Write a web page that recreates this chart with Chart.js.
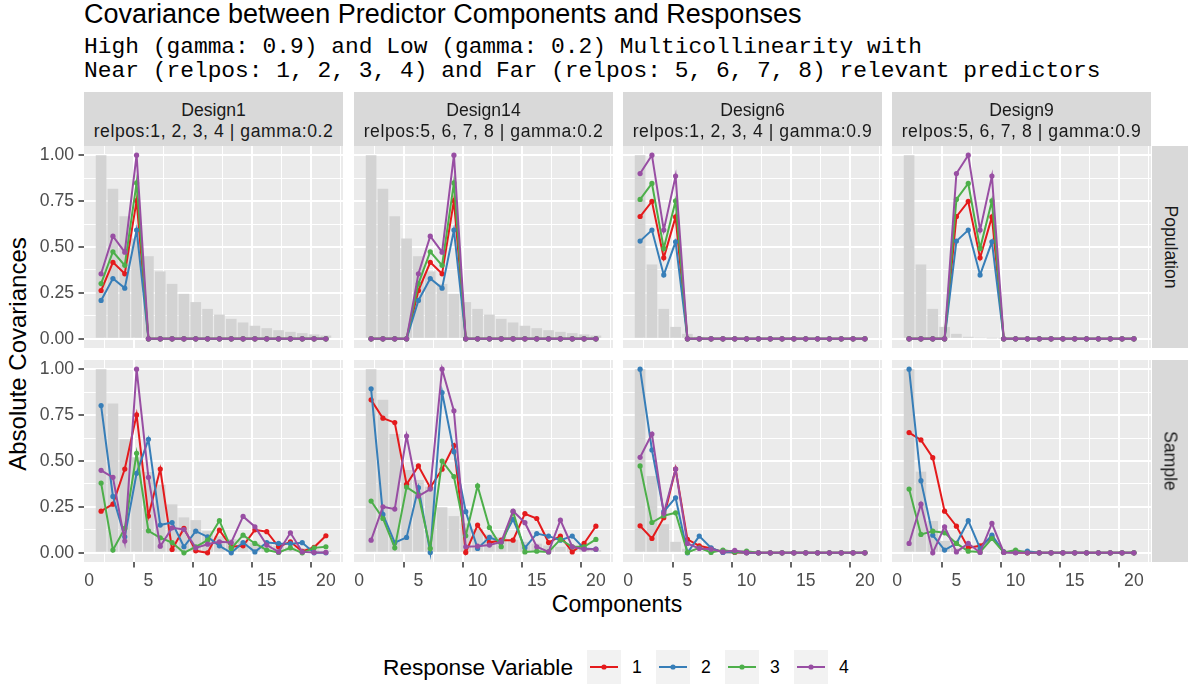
<!DOCTYPE html>
<html>
<head>
<meta charset="utf-8">
<script src="https://cdn.jsdelivr.net/npm/chart.js@4.4.1/dist/chart.umd.min.js"></script>
<style>
  body { margin: 0; width: 1188px; height: 690px; overflow: hidden; background: #fff; position: relative;
         font-family: "Liberation Sans", Arial, sans-serif; color: #000; }
  .abs { position: absolute; white-space: nowrap; }
  .strip { position: absolute; background: #D9D9D9; color: #1A1A1A; font-size: 17.6px; line-height: 21px;
           display: flex; flex-direction: column; align-items: center; justify-content: center; padding-top: 3px; box-sizing: border-box; }
  .strip .l2 { letter-spacing: 0.55px; }
  .vstrip { position: absolute; background: #D9D9D9; color: #1A1A1A; font-size: 17.6px; }
  .vstrip span { position: absolute; left: 50%; top: 50%; transform: translate(-50%, -50%) rotate(90deg); white-space: nowrap; }
</style>
</head>
<body>
<div class="abs" style="left:84px;top:-2px;font-size:27px;line-height:32px;">Covariance between Predictor Components and Responses</div>
<div class="abs" style="left:84px;top:35px;font-family:'Liberation Mono',monospace;font-size:22.9px;line-height:24px;color:#000;">High (gamma: 0.9) and Low (gamma: 0.2) Multicollinearity with<br>Near (relpos: 1, 2, 3, 4) and Far (relpos: 5, 6, 7, 8) relevant predictors</div>
<div id="ytitle" class="abs" style="left:18px;top:354px;font-size:24px;transform:translate(-50%,-50%) rotate(-90deg);">Absolute Covariances</div>
<div class="abs" style="left:617px;top:604px;font-size:23px;transform:translate(-50%,-50%);">Components</div>
<div id="legend"></div>

<script>
// components on the x axis
const components = [1, 2, 3, 4, 5, 6, 7, 8, 9, 10, 11, 12, 13, 14, 15, 16, 17, 18, 19, 20];
const designNames = ['Design1', 'Design14', 'Design6', 'Design9'];
const designInfo = ['relpos:1, 2, 3, 4 | gamma:0.2', 'relpos:5, 6, 7, 8 | gamma:0.2',
                    'relpos:1, 2, 3, 4 | gamma:0.9', 'relpos:5, 6, 7, 8 | gamma:0.9'];
const rowNames = ['Population', 'Sample'];
const responses = ['1', '2', '3', '4'];
const xTicks = [0, 5, 10, 15, 20];
const yTicks = [0, 0.25, 0.5, 0.75, 1];

// population eigenvalue bars
const popBarLow  = [1.000, 0.817, 0.668, 0.546, 0.450, 0.367, 0.299, 0.245, 0.200, 0.163, 0.132, 0.109, 0.089, 0.071, 0.058, 0.047, 0.038, 0.031, 0.024, 0.018];
const popBarHigh = [1.000, 0.405, 0.163, 0.065, 0.027, 0.011, 0.004, 0.002, 0.001, 0, 0, 0, 0, 0, 0, 0, 0, 0, 0, 0];

// Design1 population
const d1PopR1 = [0.263, 0.417, 0.354, 0.753, 0, 0, 0, 0, 0, 0, 0, 0, 0, 0, 0, 0, 0, 0, 0, 0];
const d1PopR2 = [0.209, 0.328, 0.276, 0.592, 0, 0, 0, 0, 0, 0, 0, 0, 0, 0, 0, 0, 0, 0, 0, 0];
const d1PopR3 = [0.301, 0.474, 0.400, 0.849, 0, 0, 0, 0, 0, 0, 0, 0, 0, 0, 0, 0, 0, 0, 0, 0];
const d1PopR4 = [0.354, 0.559, 0.472, 1.000, 0, 0, 0, 0, 0, 0, 0, 0, 0, 0, 0, 0, 0, 0, 0, 0];
// Design14 population
const d14PopR1 = [0, 0, 0, 0, 0.263, 0.417, 0.354, 0.753, 0, 0, 0, 0, 0, 0, 0, 0, 0, 0, 0, 0];
const d14PopR2 = [0, 0, 0, 0, 0.209, 0.328, 0.276, 0.592, 0, 0, 0, 0, 0, 0, 0, 0, 0, 0, 0, 0];
const d14PopR3 = [0, 0, 0, 0, 0.301, 0.474, 0.400, 0.849, 0, 0, 0, 0, 0, 0, 0, 0, 0, 0, 0, 0];
const d14PopR4 = [0, 0, 0, 0, 0.354, 0.559, 0.472, 1.000, 0, 0, 0, 0, 0, 0, 0, 0, 0, 0, 0, 0];
// Design6 population
const d6PopR1 = [0.666, 0.748, 0.441, 0.664, 0, 0, 0, 0, 0, 0, 0, 0, 0, 0, 0, 0, 0, 0, 0, 0];
const d6PopR2 = [0.532, 0.592, 0.348, 0.528, 0, 0, 0, 0, 0, 0, 0, 0, 0, 0, 0, 0, 0, 0, 0, 0];
const d6PopR3 = [0.759, 0.846, 0.492, 0.751, 0, 0, 0, 0, 0, 0, 0, 0, 0, 0, 0, 0, 0, 0, 0, 0];
const d6PopR4 = [0.900, 1.000, 0.592, 0.886, 0, 0, 0, 0, 0, 0, 0, 0, 0, 0, 0, 0, 0, 0, 0, 0];
// Design9 population
const d9PopR1 = [0, 0, 0, 0, 0.666, 0.748, 0.441, 0.664, 0, 0, 0, 0, 0, 0, 0, 0, 0, 0, 0, 0];
const d9PopR2 = [0, 0, 0, 0, 0.532, 0.592, 0.348, 0.528, 0, 0, 0, 0, 0, 0, 0, 0, 0, 0, 0, 0];
const d9PopR3 = [0, 0, 0, 0, 0.759, 0.846, 0.492, 0.751, 0, 0, 0, 0, 0, 0, 0, 0, 0, 0, 0, 0];
const d9PopR4 = [0, 0, 0, 0, 0.900, 1.000, 0.592, 0.886, 0, 0, 0, 0, 0, 0, 0, 0, 0, 0, 0, 0];

// sample eigenvalue bars
const d1SamBar  = [1.000, 0.813, 0.618, 0.520, 0.440, 0.370, 0.264, 0.193, 0.178, 0.118, 0.090, 0.075, 0.065, 0.055, 0.045, 0.038, 0.030, 0.025, 0.018, 0.012];
const d14SamBar = [1.000, 0.833, 0.647, 0.451, 0.397, 0.360, 0.248, 0.200, 0.160, 0.130, 0.100, 0.085, 0.070, 0.060, 0.050, 0.040, 0.033, 0.027, 0.020, 0.015];
const d6SamBar  = [1.000, 0.418, 0.156, 0.060, 0.022, 0.010, 0.005, 0.003, 0.002, 0.001, 0, 0, 0, 0, 0, 0, 0, 0, 0, 0];
const d9SamBar  = [1.000, 0.442, 0.173, 0.065, 0.025, 0.010, 0.005, 0.003, 0.002, 0.001, 0, 0, 0, 0, 0, 0, 0, 0, 0, 0];

// Design1 sample
const d1SamR1 = [0.227, 0.265, 0.456, 0.751, 0.200, 0.456, 0.018, 0.133, 0.011, 0.000, 0.124, 0.033, 0.038, 0.125, 0.115, 0.033, 0.060, 0.008, 0.030, 0.093];
const d1SamR2 = [0.802, 0.307, 0.087, 0.433, 0.618, 0.151, 0.165, 0.033, 0.118, 0.087, 0.038, 0.000, 0.056, 0.005, 0.056, 0.051, 0.050, 0.055, 0.000, 0.000];
const d1SamR3 = [0.380, 0.015, 0.133, 0.542, 0.120, 0.082, 0.056, 0.000, 0.033, 0.069, 0.175, 0.024, 0.096, 0.051, 0.015, 0.002, 0.027, 0.000, 0.027, 0.033];
const d1SamR4 = [0.449, 0.411, 0.064, 1.000, 0.411, 0.036, 0.136, 0.127, 0.027, 0.047, 0.060, 0.056, 0.198, 0.142, 0.042, 0.005, 0.109, 0.005, 0.002, 0.002];
// Design14 sample
const d14SamR1 = [0.833, 0.733, 0.709, 0.373, 0.473, 0.355, 0.455, 0.584, 0.002, 0.151, 0.056, 0.069, 0.069, 0.213, 0.187, 0.056, 0.091, 0.005, 0.051, 0.145];
const d14SamR2 = [0.893, 0.209, 0.055, 0.084, 0.355, 0.002, 0.873, 0.551, 0.224, 0.024, 0.084, 0.060, 0.182, 0.027, 0.105, 0.091, 0.069, 0.091, 0.024, 0.020];
const d14SamR3 = [0.282, 0.187, 0.027, 0.358, 0.315, 0.024, 0.500, 0.415, 0.093, 0.364, 0.138, 0.033, 0.224, 0.005, 0.009, 0.005, 0.073, 0.033, 0.033, 0.073];
const d14SamR4 = [0.069, 0.251, 0.238, 0.636, 0.309, 0.347, 1.000, 0.773, 0.033, 0.036, 0.042, 0.060, 0.227, 0.164, 0.033, 0.005, 0.178, 0.033, 0.020, 0.020];
// Design6 sample
const d6SamR1 = [0.147, 0.078, 0.191, 0.456, 0.073, 0.038, 0.024, 0.005, 0.002, 0, 0, 0, 0, 0, 0, 0, 0, 0, 0, 0];
const d6SamR2 = [1.000, 0.560, 0.224, 0.300, 0.000, 0.091, 0.027, 0.002, 0.005, 0, 0, 0, 0, 0, 0, 0, 0, 0, 0, 0];
const d6SamR3 = [0.473, 0.165, 0.202, 0.218, 0.002, 0.027, 0.002, 0.015, 0.005, 0.009, 0, 0, 0, 0, 0, 0, 0, 0, 0, 0];
const d6SamR4 = [0.520, 0.647, 0.215, 0.456, 0.051, 0.024, 0.020, 0.005, 0.013, 0.002, 0, 0, 0, 0, 0, 0, 0, 0, 0, 0];
// Design9 sample
const d9SamR1 = [0.655, 0.615, 0.518, 0.227, 0.145, 0.027, 0.038, 0.087, 0.005, 0.002, 0, 0, 0, 0, 0, 0, 0, 0, 0, 0];
const d9SamR2 = [1.000, 0.393, 0.096, 0.015, 0.051, 0.175, 0.024, 0.096, 0.005, 0.002, 0.009, 0, 0, 0, 0, 0, 0, 0, 0, 0];
const d9SamR3 = [0.347, 0.100, 0.118, 0.109, 0.051, 0.009, 0.005, 0.078, 0.002, 0.015, 0, 0, 0, 0, 0, 0, 0, 0, 0, 0];
const d9SamR4 = [0.051, 0.265, 0.000, 0.142, 0.005, 0.051, 0.002, 0.160, 0.002, 0, 0, 0, 0, 0, 0, 0, 0, 0, 0, 0];

const colors = ['#E41A1C', '#377EB8', '#4DAF4A', '#984EA3'];

const panels = [
  [[popBarLow, [d1PopR1, d1PopR2, d1PopR3, d1PopR4]],
   [popBarLow, [d14PopR1, d14PopR2, d14PopR3, d14PopR4]],
   [popBarHigh, [d6PopR1, d6PopR2, d6PopR3, d6PopR4]],
   [popBarHigh, [d9PopR1, d9PopR2, d9PopR3, d9PopR4]]],
  [[d1SamBar, [d1SamR1, d1SamR2, d1SamR3, d1SamR4]],
   [d14SamBar, [d14SamR1, d14SamR2, d14SamR3, d14SamR4]],
   [d6SamBar, [d6SamR1, d6SamR2, d6SamR3, d6SamR4]],
   [d9SamBar, [d9SamR1, d9SamR2, d9SamR3, d9SamR4]]]
];

// layout of the facet grid
const panelLeft = [84, 354, 623, 892];
const panelTop = [146, 360];
const PW = 259, PH = 202, M = 22;
const xGrid = [0, 2.5, 5, 7.5, 10, 12.5, 15, 17.5, 20];
const yGrid = [0, 0.125, 0.25, 0.375, 0.5, 0.625, 0.75, 0.875, 1];

function isMajor(list, v) {
  return list.some(t => Math.abs(t - v) < 1e-9);
}

function makePanel(row, col) {
  const [bars, series] = panels[row][col];
  const yW = col === 0 ? 84 : 0;
  const xH = row === 1 ? 32 : 0;
  const left = panelLeft[col] - yW - M, top = panelTop[row] - M;
  const w = PW + yW + 2 * M, h = PH + xH + 2 * M;
  const cv = document.createElement('canvas');
  cv.width = w; cv.height = h;
  cv.style.cssText = `position:absolute;left:${left}px;top:${top}px;width:${w}px;height:${h}px`;
  document.body.appendChild(cv);

  const datasets = [{
    type: 'bar', data: bars, backgroundColor: '#D3D3D3', borderWidth: 0,
    barPercentage: 1, categoryPercentage: 0.9, order: 5
  }];
  series.forEach((s, i) => datasets.push({
    type: 'line', data: s, borderColor: colors[i], backgroundColor: colors[i],
    borderWidth: 2, pointRadius: 2.6, pointBorderWidth: 0, pointHoverRadius: 2.6,
    tension: 0, order: 4 - i
  }));

  new Chart(cv, {
    type: 'bar',
    data: { labels: components, datasets: datasets },
    options: {
      responsive: false, animation: false, devicePixelRatio: 1,
      layout: { padding: M },
      plugins: { legend: { display: false }, tooltip: { enabled: false } },
      scales: {
        x: {
          type: 'linear', min: -0.445, max: 21.445, offset: false,
          afterBuildTicks: s => { s.ticks = xGrid.map(v => ({ value: v })); },
          afterFit: s => { s.height = xH; },
          border: { display: false },
          grid: {
            color: '#FFFFFF',
            lineWidth: c => (c.tick && isMajor(xTicks, c.tick.value)) ? 2 : 1,
            drawTicks: row === 1, tickLength: 5.5,
            tickColor: c => (c.tick && isMajor(xTicks, c.tick.value)) ? '#333333' : 'rgba(0,0,0,0)',
            tickWidth: 1.5
          },
          ticks: {
            display: row === 1, autoSkip: false, maxRotation: 0, padding: 3,
            color: '#4D4D4D', font: { family: 'Liberation Sans', size: 17.6 },
            callback: v => isMajor(xTicks, v) ? String(v) : ''
          }
        },
        y: {
          min: -0.05, max: 1.05,
          afterBuildTicks: s => { s.ticks = yGrid.map(v => ({ value: v })); },
          afterFit: s => { s.width = yW; },
          border: { display: false },
          grid: {
            color: '#FFFFFF',
            lineWidth: c => (c.tick && isMajor(yTicks, c.tick.value)) ? 2 : 1,
            drawTicks: col === 0, tickLength: 5.5,
            tickColor: c => (c.tick && isMajor(yTicks, c.tick.value)) ? '#333333' : 'rgba(0,0,0,0)',
            tickWidth: 1.5
          },
          ticks: {
            display: col === 0, autoSkip: false, padding: 4.4,
            color: '#4D4D4D', font: { family: 'Liberation Sans', size: 17.6 },
            callback: v => isMajor(yTicks, v) ? v.toFixed(2) : ''
          }
        }
      }
    },
    plugins: [{
      id: 'panelBg',
      beforeDraw: chart => {
        const a = chart.chartArea, ctx = chart.ctx;
        ctx.save();
        ctx.fillStyle = '#EBEBEB';
        ctx.fillRect(a.left, a.top, a.right - a.left, a.bottom - a.top);
        ctx.restore();
      }
    }]
  });
}

for (let r = 0; r < 2; r++) {
  for (let c = 0; c < 4; c++) makePanel(r, c);
}

// facet strips
designNames.forEach((name, c) => {
  const d = document.createElement('div');
  d.className = 'strip';
  d.style.cssText = `left:${panelLeft[c]}px;top:92px;width:${PW}px;height:54px;`;
  d.innerHTML = `<div>${name}</div><div class="l2">${designInfo[c]}</div>`;
  document.body.appendChild(d);
});
rowNames.forEach((name, r) => {
  const d = document.createElement('div');
  d.className = 'vstrip';
  d.style.cssText = `left:1152px;top:${panelTop[r]}px;width:36px;height:${PH}px;`;
  d.innerHTML = `<span>${name}</span>`;
  document.body.appendChild(d);
});

// legend
const legend = document.getElementById('legend');
let html = `<div class="abs" style="left:383px;top:667px;font-size:22.7px;transform:translateY(-50%);">Response Variable</div>`;
const keyX = [587, 656, 725, 794];
responses.forEach((lab, i) => {
  html += `<svg class="abs" style="left:${keyX[i]}px;top:650px;" width="34" height="34">
    <rect x="0" y="0" width="34" height="34" fill="#F2F2F2"/>
    <line x1="3" y1="17" x2="31" y2="17" stroke="${colors[i]}" stroke-width="2"/>
    <circle cx="17" cy="17" r="2.6" fill="${colors[i]}"/></svg>`;
  html += `<div class="abs" style="left:${keyX[i] + 45}px;top:667px;font-size:17.6px;transform:translateY(-50%);">${lab}</div>`;
});
legend.innerHTML = html;
</script>
</body>
</html>
